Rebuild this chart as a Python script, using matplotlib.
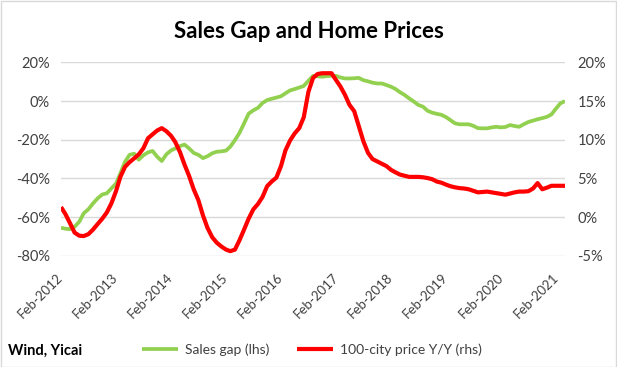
import matplotlib
matplotlib.use('Agg')
import matplotlib.pyplot as plt
import matplotlib.dates as mdates
import matplotlib.ticker as mticker
import pandas as pd

plt.rcParams['font.family'] = ['Lato', 'DejaVu Sans']

# Monthly data, Feb-2012 .. Apr-2021
months = pd.date_range('2012-02-01', periods=111, freq='MS')

sales_gap = [
    -65.5, -66, -66.2, -65, -62.4, -58, -55.9, -52.9, -50.3, -48.3, -47.7, -45.1,
    -42.6, -37.4, -31.4, -27.8, -27.2, -30.3, -28, -26.5, -25.8, -28.8, -31, -27.5,
    -25.5, -24.5, -23.3, -22.5, -24.5, -26.8, -27.8, -29.5, -28.5, -27, -26.2, -26,
    -25.6, -23.6, -20.2, -16.5, -11.5, -6.5, -4.8, -3.5, -1, 0.5, 1.2, 1.8,
    2.5, 4, 5.5, 6.2, 7, 7.8, 10.5, 13, 12.8, 12.6, 12.9, 13.1,
    13, 12.2, 11.7, 11.7, 11.8, 12, 10.8, 10.2, 9.5, 9.1, 9.1, 8.3,
    7.4, 6.3, 4.6, 3.2, 1.4, -0.2, -2, -2.9, -5, -6, -6.6, -7.1,
    -8.3, -9.8, -11.5, -12, -12, -12, -12.8, -14, -14.1, -14.1, -13.6, -13.3,
    -13.6, -13.4, -12.4, -12.9, -13.3, -12, -10.8, -10.1, -9.4, -8.8, -8.2, -6.9,
    -3.8, -1.2, 0,
]

price_yoy = [
    1.3, 0.4, -0.8, -2.0, -2.4, -2.45, -2.2, -1.6, -0.9, -0.2, 0.6, 1.8,
    3.4, 5.2, 6.5, 7.1, 7.6, 8.1, 8.9, 10.2, 10.7, 11.2, 11.5, 11.1,
    10.5, 9.7, 8.4, 6.8, 5.3, 3.6, 2.2, 0.2, -1.4, -2.6, -3.3, -3.8,
    -4.2, -4.4, -4.2, -3.0, -1.6, -0.2, 1.0, 1.7, 2.6, 4.0, 4.6, 5.1,
    6.6, 8.6, 9.9, 10.8, 11.5, 12.9, 16.2, 18.0, 18.5, 18.6, 18.6, 18.6,
    17.7, 16.9, 15.8, 14.5, 13.7, 11.8, 9.8, 8.3, 7.5, 7.2, 6.9, 6.6,
    6.1, 5.8, 5.5, 5.35, 5.2, 5.2, 5.2, 5.15, 5.05, 4.9, 4.6, 4.45,
    4.2, 4.0, 3.85, 3.75, 3.7, 3.6, 3.4, 3.2, 3.25, 3.3, 3.2, 3.1,
    3.0, 2.9, 3.05, 3.2, 3.3, 3.3, 3.35, 3.7, 4.4, 3.6, 3.8, 4.05,
    4.05, 4.05, 4.05,
]

left_ticks = [-80, -60, -40, -20, 0, 20]
right_ticks = [-5, 0, 5, 10, 15, 20]

fig = plt.figure(figsize=(6.17, 3.67), dpi=100)
ax = fig.add_axes([0.0989, 0.303, 0.8168, 0.527])
ax2 = ax.twinx()

# gridlines
for t in left_ticks:
    ax.axhline(t, color='#d9d9d9', lw=1, zorder=0)

l1, = ax.plot(months, sales_gap, color='#92d050', lw=2.7, label='Sales gap (lhs)',
              solid_joinstyle='round', solid_capstyle='butt')
l2, = ax2.plot(months, price_yoy, color='#ff0000', lw=3.0, label='100-city price Y/Y (rhs)',
               solid_joinstyle='round', solid_capstyle='butt')

ax.set_ylim(-80, 20)
ax2.set_ylim(-5, 20)
ax.set_yticks(left_ticks)
ax2.set_yticks(right_ticks)
ax.yaxis.set_major_formatter(mticker.FuncFormatter(lambda v, p: f'{v:.0f}%'))
ax2.yaxis.set_major_formatter(mticker.FuncFormatter(lambda v, p: f'{v:.0f}%'))
ax.set_xlim(months[0], months[-1])

ax.xaxis.set_major_locator(mdates.MonthLocator(bymonth=2))
ax.xaxis.set_major_formatter(mdates.DateFormatter('%b-%Y'))

for a in (ax, ax2):
    for s in a.spines.values():
        s.set_visible(False)
    a.tick_params(length=0, labelsize=10.5, colors='#404040')
ax.tick_params(axis='y', pad=8)
ax2.tick_params(axis='y', pad=9)
ax.tick_params(axis='x', pad=14, labelsize=9.5)
for lab in ax.get_xticklabels():
    lab.set_rotation(45)
    lab.set_ha('right')
    lab.set_va('center')
    lab.set_rotation_mode('anchor')

fig.text(0.5, 0.915, 'Sales Gap and Home Prices', ha='center', va='center',
         fontsize=16, fontweight='bold', color='black')
fig.text(0.013, 0.045, 'Wind, Yicai', ha='left', va='center',
         fontsize=10.5, fontweight='bold', color='black')
fig.legend([l1, l2], ['Sales gap (lhs)', '100-city price Y/Y (rhs)'],
           loc='center', bbox_to_anchor=(0.505, 0.047), ncol=2, frameon=False,
           fontsize=10, handlelength=2.6, columnspacing=2.0, handletextpad=0.5,
           labelcolor='#404040')

fig.patches.append(plt.Rectangle((0.001, 0.001), 0.997, 0.997, transform=fig.transFigure,
                                 fill=False, edgecolor='#d9d9d9', lw=1))

plt.savefig('out.png', dpi=100)
